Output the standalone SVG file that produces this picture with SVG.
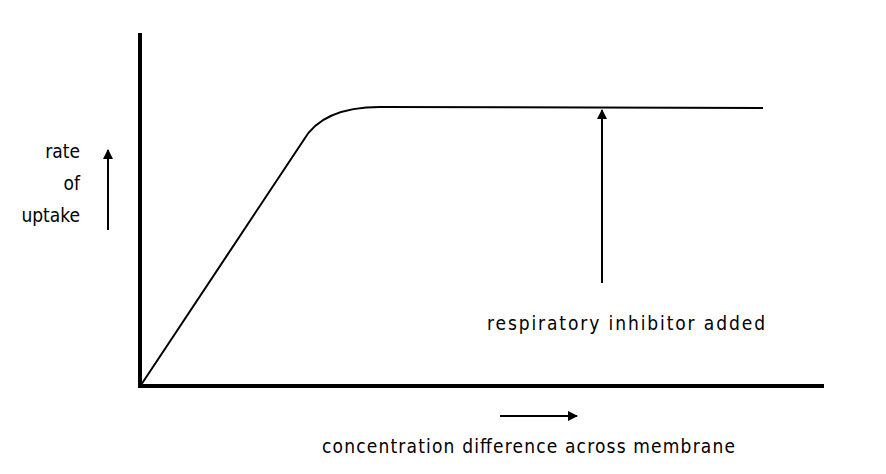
<svg xmlns="http://www.w3.org/2000/svg" width="886" height="474" viewBox="0 0 886 474">
<style>
text{font-family:"DejaVu Sans Condensed","DejaVu Sans",sans-serif;font-size:19px;fill:#000}
.ax{stroke:#000;stroke-width:4;fill:none}
.ln{stroke:#000;stroke-width:2;fill:none}
</style>
<defs><marker id="ah" viewBox="0 0 10 10" refX="9" refY="5" markerWidth="5" markerHeight="5" orient="auto"><path d="M0,0L10,5L0,10z" fill="#000"/></marker></defs>
<rect width="886" height="474" fill="#fff"/>
<g id="axes">
<path class="ax" d="M140,33V388M138,386H824"/>
</g>
<g id="curve"><path class="ln" d="M141,385L303,141Q322,107 380,107L763,108"/></g>
<g id="connectors">
<path class="ln" d="M602,283V110" marker-end="url(#ah)"/>
<path class="ln" d="M108,230V150" marker-end="url(#ah)"/>
<path class="ln" d="M500,416H577" marker-end="url(#ah)"/>
</g>
<g id="labels">
<text x="487" y="330" textLength="278">respiratory inhibitor added</text>
<text x="80" y="158" text-anchor="end">rate</text>
<text x="80" y="190" text-anchor="end">of</text>
<text x="80" y="222" text-anchor="end">uptake</text>
<text x="322" y="453" textLength="413">concentration difference across membrane</text>
</g>
</svg>
